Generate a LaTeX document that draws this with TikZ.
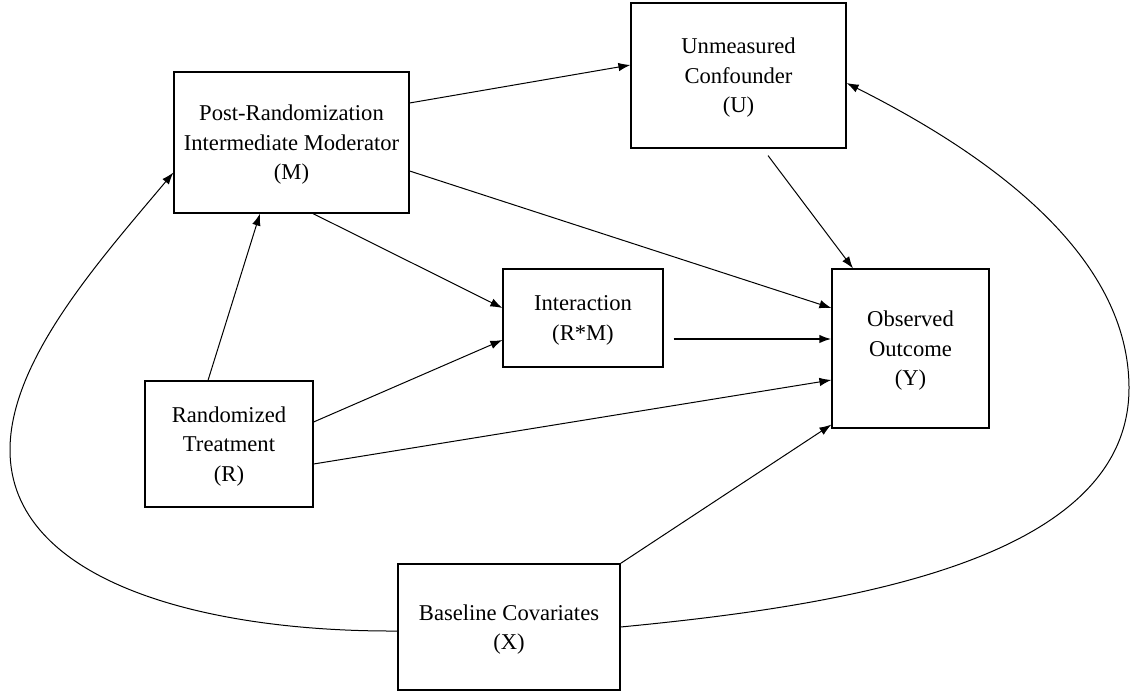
\documentclass[tikz,border=0pt]{standalone}
\usepackage{fontspec}
\setmainfont{Liberation Serif}
\usetikzlibrary{arrows.meta}
\usetikzlibrary{calc}

\tikzset{
	var/.style={draw, rectangle, line width=1.2pt, align=center, inner sep=0pt, text depth=-6pt, font=\fontsize{22.6}{29.5}\selectfont},
	link/.style={-{Latex[length=12pt,width=8.5pt]}, line width=1pt},
}

\begin{document}
\begin{tikzpicture}[x=1pt,y=-1pt]
\useasboundingbox (0,0) rectangle (1132,692);

\node[var, minimum width=235pt, minimum height=141pt] (M) at (291.5,142.5) {Post-Randomization\\Intermediate Moderator\\(M)};
\node[var, minimum width=215pt, minimum height=145pt] (U) at (738.5,75.5) {Unmeasured\\Confounder\\(U)};
\node[var, minimum width=160pt, minimum height=98pt] (I) at (583,318) {Interaction\\(R*M)};
\node[var, minimum width=157pt, minimum height=159pt] (Y) at (910.5,348.5) {Observed\\Outcome\\(Y)};
\node[var, minimum width=168pt, minimum height=126pt] (R) at (229,444) {Randomized\\Treatment\\(R)};
\node[var, minimum width=222pt, minimum height=126pt] (X) at (509,627) {Baseline Covariates\\(X)};

\coordinate (lbend) at (10,450);
\coordinate (rbend) at (1129,388);

\path[link]
([yshift=39.5pt]M.east) edge ([yshift=10.5pt]U.west)
([yshift=-28.5pt]M.east) edge ([yshift=40.5pt]Y.west)
([xshift=21.5pt]M.south) edge ([yshift=10pt]I.west)
([xshift=-21pt]R.north) edge ([xshift=-31.5pt]M.south)
([yshift=22pt]R.east) edge ([yshift=-22pt]I.west)
([yshift=-20pt]R.east) edge ([yshift=-31.5pt]Y.west)
([shift={(29.5pt,-7pt)}]U.south) edge ([xshift=-57.5pt]Y.north)
(X.north east) edge ([yshift=4pt]Y.south west)
;
\path[link, line width=2pt]
([shift={(10pt,-21pt)}]I.east) edge ([yshift=9.5pt]Y.west)
;

% baseline covariates loop round to M and U
\draw[link] ([yshift=-4pt]X.west) .. controls (200,632) and (10,580) .. (lbend)
	.. controls (10,360) and (100,260) .. ([yshift=-30pt]M.west);
\draw[link] (X.east) .. controls (850,605) and (1129,560) .. (rbend)
	.. controls (1129,260) and (1000,160) .. ([yshift=-7.5pt]U.east);
\end{tikzpicture}
\end{document}
